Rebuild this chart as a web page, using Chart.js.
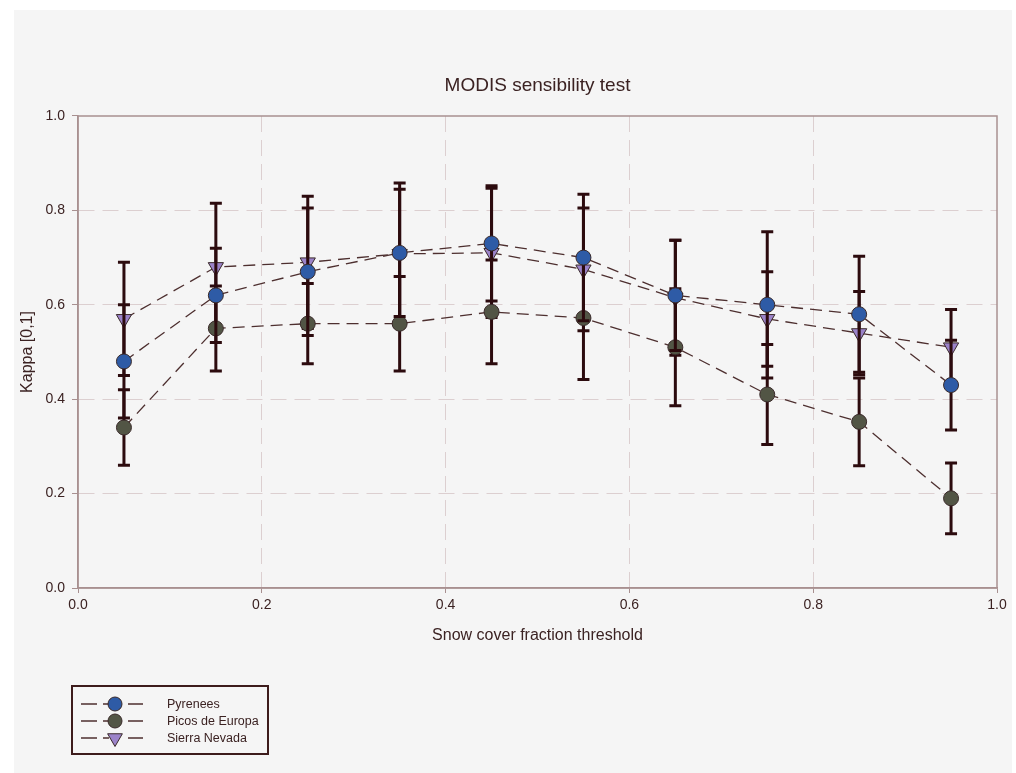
<!DOCTYPE html>
<html>
<head>
<meta charset="utf-8">
<script src="https://cdn.jsdelivr.net/npm/chart.js@4.4.0/dist/chart.umd.min.js"></script>
<style>
  html, body { margin: 0; padding: 0; background: #ffffff; }
  #wrap { position: relative; width: 1016px; height: 773px; }
</style>
</head>
<body>
<div id="wrap"><canvas id="c"></canvas></div>
<script>
// ---- data ----
const thresholds = [0.05, 0.15, 0.25, 0.35, 0.45, 0.55, 0.65, 0.75, 0.85, 0.95];
const seriesNames = ['Pyrenees', 'Picos de Europa', 'Sierra Nevada'];
const pyrenees     = [0.48, 0.62, 0.67, 0.71, 0.73, 0.70, 0.62, 0.60, 0.58, 0.43];
const pyreneesErr  = [0.12, 0.10, 0.135, 0.135, 0.122, 0.134, 0.117, 0.155, 0.123, 0.095];
const picos        = [0.34, 0.55, 0.56, 0.56, 0.585, 0.572, 0.51, 0.41, 0.352, 0.19];
const picosErr     = [0.08, 0.09, 0.085, 0.10, 0.11, 0.13, 0.124, 0.106, 0.093, 0.075];
const sierra       = [0.57, 0.68, 0.69, 0.708, 0.71, 0.675, 0.615, 0.57, 0.54, 0.51];
const sierraErr    = [0.12, 0.135, 0.14, 0.15, 0.137, 0.13, 0.122, 0.10, 0.088, 0.08];
const chartTitle = 'MODIS sensibility test';
const xTitle = 'Snow cover fraction threshold';
const yTitle = 'Kappa [0,1]';

// ---- styles ----
const FONT = "'Liberation Sans', Arial, sans-serif";
const textColor = '#3b2222';
const lineColor = '#4d2f2f';
const barColor = '#2c0b0e';
const frameColor = '#a89090';
const gridColor = '#dccfd0';
const fills = ['#2e5ba6', '#525545', '#9b83c9'];
const pStyles = ['circle', 'circle', 'triangle'];
const pRadius = [7.5, 7.5, 8.8];
const pRot = [0, 0, 180];
const errs = [pyreneesErr, picosErr, sierraErr];
const vals = [pyrenees, picos, sierra];

function pts(arr) { return arr.map((v, i) => ({ x: thresholds[i], y: v })); }

const datasets = vals.map((arr, k) => ({
  label: seriesNames[k],
  data: pts(arr),
  borderColor: lineColor,
  borderWidth: 1.3,
  borderDash: [12, 7],
  backgroundColor: fills[k],
  pointStyle: pStyles[k],
  pointRadius: pRadius[k],
  pointRotation: pRot[k],
  pointBackgroundColor: fills[k],
  pointBorderColor: '#3a2a2a',
  pointBorderWidth: 1,
  pointHoverRadius: pRadius[k],
  tension: 0,
  fill: false
}));

const panelPlugin = {
  id: 'panel',
  beforeDraw(chart) {
    const ctx = chart.ctx;
    ctx.save();
    ctx.fillStyle = '#ffffff';
    ctx.fillRect(0, 0, chart.width, chart.height);
    ctx.fillStyle = '#f5f5f5';
    ctx.fillRect(14, 10, 998, 763);
    ctx.restore();
  },
  beforeDatasetsDraw(chart) {
    const { ctx, chartArea: a } = chart;
    ctx.save();
    ctx.strokeStyle = frameColor;
    ctx.lineWidth = 1.5;
    ctx.strokeRect(a.left, a.top, a.right - a.left, a.bottom - a.top);
    ctx.restore();
  }
};

const errPlugin = {
  id: 'errbars',
  beforeDatasetDraw(chart, args) {
    const k = args.index;
    const meta = args.meta;
    const ys = chart.scales.y;
    const ctx = chart.ctx;
    ctx.save();
    ctx.strokeStyle = barColor;
    ctx.lineWidth = 3;
    ctx.lineCap = 'butt';
    meta.data.forEach((pt, i) => {
      const v = vals[k][i], e = errs[k][i];
      const y1 = ys.getPixelForValue(v + e);
      const y2 = ys.getPixelForValue(v - e);
      const x = pt.x;
      ctx.beginPath();
      ctx.moveTo(x, y1); ctx.lineTo(x, y2);
      ctx.moveTo(x - 6, y1); ctx.lineTo(x + 6, y1);
      ctx.moveTo(x - 6, y2); ctx.lineTo(x + 6, y2);
      ctx.stroke();
    });
    ctx.restore();
  }
};

function drawMarker(ctx, k, x, y) {
  ctx.save();
  ctx.fillStyle = fills[k];
  ctx.strokeStyle = '#3a2a2a';
  ctx.lineWidth = 1;
  ctx.beginPath();
  if (pStyles[k] === 'circle') {
    ctx.arc(x, y, 7, 0, Math.PI * 2);
  } else {
    const r = 8.5;
    ctx.moveTo(x, y + r);
    ctx.lineTo(x - r * 0.866, y - r / 2);
    ctx.lineTo(x + r * 0.866, y - r / 2);
    ctx.closePath();
  }
  ctx.fill();
  ctx.stroke();
  ctx.restore();
}

const legendPlugin = {
  id: 'boxlegend',
  afterDraw(chart) {
    const ctx = chart.ctx;
    ctx.save();
    ctx.strokeStyle = '#3d1c1c';
    ctx.lineWidth = 2;
    ctx.strokeRect(72, 686, 196, 68);
    const rows = [704, 721, 738];
    seriesNames.forEach((name, k) => {
      const y = rows[k];
      ctx.strokeStyle = lineColor;
      ctx.lineWidth = 1.3;
      ctx.beginPath();
      ctx.moveTo(81, y); ctx.lineTo(97, y);
      ctx.moveTo(103, y); ctx.lineTo(109, y);
      ctx.moveTo(128, y); ctx.lineTo(143, y);
      ctx.stroke();
      drawMarker(ctx, k, 115, y);
      ctx.fillStyle = textColor;
      ctx.font = '12.5px ' + FONT;
      ctx.textAlign = 'left';
      ctx.textBaseline = 'middle';
      ctx.fillText(name, 167, y + 0.5);
    });
    ctx.restore();
  }
};

const edgeColor = (c) => {
  const v = c.tick ? c.tick.value : null;
  if (v === null) return gridColor;
  return (Math.abs(v) < 1e-9 || Math.abs(v - 1) < 1e-9) ? 'rgba(0,0,0,0)' : gridColor;
};

new Chart(document.getElementById('c'), {
  type: 'line',
  data: { datasets },
  plugins: [panelPlugin, errPlugin, legendPlugin],
  options: {
    responsive: true,
    maintainAspectRatio: false,
    animation: false,
    layout: { padding: { left: 14, top: 10, right: 19, bottom: 127.4 } },
    plugins: {
      legend: { display: false },
      tooltip: { enabled: false },
      title: {
        display: true,
        fullSize: false,
        text: chartTitle,
        color: textColor,
        font: { family: FONT, size: 19, weight: 'normal' },
        padding: { top: 64.6, bottom: 18.6 }
      }
    },
    scales: {
      x: {
        type: 'linear',
        min: 0, max: 1,
        afterFit(s) { s.height = 57.6; },
        ticks: {
          stepSize: 0.2,
          color: textColor,
          font: { family: FONT, size: 14 },
          padding: 4,
          callback: (v) => Number(v).toFixed(1)
        },
        grid: {
          color: edgeColor,
          lineWidth: 1,
          tickColor: frameColor,
          tickLength: 5,
          tickBorderDash: []
        },
        border: { display: true, color: frameColor, width: 1.5, dash: [16, 8] },
        title: {
          display: true, text: xTitle, color: textColor,
          font: { family: FONT, size: 16 }, padding: { top: 0, bottom: 0 }
        }
      },
      y: {
        type: 'linear',
        min: 0, max: 1,
        afterFit(s) { s.width = 64; },
        ticks: {
          stepSize: 0.2,
          color: textColor,
          font: { family: FONT, size: 14 },
          padding: 7,
          callback: (v) => Number(v).toFixed(1)
        },
        grid: {
          color: edgeColor,
          lineWidth: 1,
          tickColor: frameColor,
          tickLength: 6,
          tickBorderDash: []
        },
        border: { display: true, color: frameColor, width: 1.5, dash: [16, 8] },
        title: {
          display: true, text: yTitle, color: textColor,
          font: { family: FONT, size: 16 }, padding: { top: 4, bottom: 4 }
        }
      }
    }
  }
});
</script>
</body>
</html>
